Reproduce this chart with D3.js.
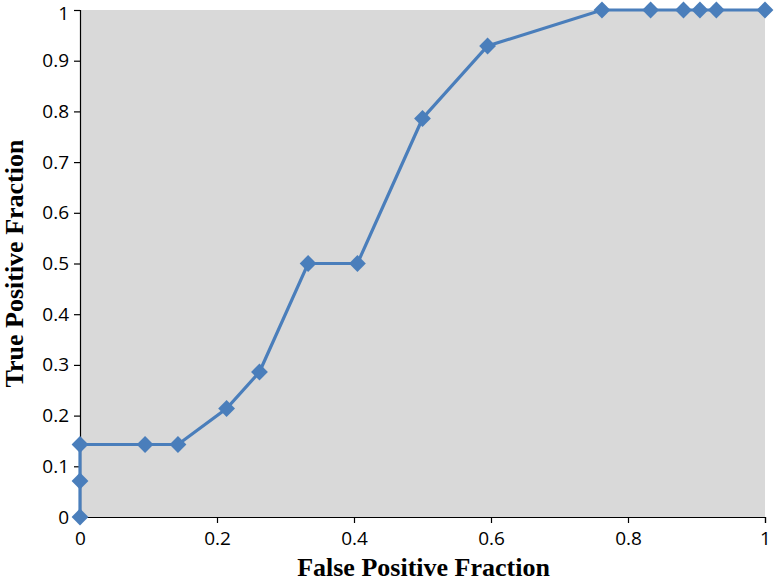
<!DOCTYPE html>
<html>
<head>
<meta charset="utf-8">
<script src="https://cdn.jsdelivr.net/npm/d3@7"></script>
<style>
  body { margin: 0; background: #fff; }
</style>
</head>
<body>
<svg id="chart"></svg>
<script>
// ROC curve points
const fpf = [0, 0, 0, 0.095, 0.143, 0.214, 0.262, 0.333, 0.405, 0.5, 0.595, 0.762, 0.833, 0.881, 0.905, 0.929, 1];
const tpf = [0, 0.071, 0.143, 0.143, 0.143, 0.214, 0.286, 0.5, 0.5, 0.786, 0.929, 1, 1, 1, 1, 1, 1];
const xTicks = [0, 0.2, 0.4, 0.6, 0.8, 1];
const yTicks = [0, 0.1, 0.2, 0.3, 0.4, 0.5, 0.6, 0.7, 0.8, 0.9, 1];

const data = fpf.map((x, i) => ({ x: x, y: tpf[i] }));

const width = 774, height = 583;
const margin = { top: 10, right: 9, bottom: 66, left: 80 };
const plotW = width - margin.left - margin.right;
const plotH = height - margin.top - margin.bottom;

const svg = d3.select("#chart")
    .attr("width", width)
    .attr("height", height);

const g = svg.append("g")
    .attr("transform", "translate(" + margin.left + "," + margin.top + ")");

const xScale = d3.scaleLinear().domain([0, 1]).range([0, plotW]);
const yScale = d3.scaleLinear().domain([0, 1]).range([plotH, 0]);

// grey plot area
g.append("rect")
    .attr("width", plotW)
    .attr("height", plotH)
    .attr("fill", "#d9d9d9");

const tickFont = "'Open Sans', 'DejaVu Sans', sans-serif";

// x axis
const xAxis = g.append("g")
    .attr("transform", "translate(0," + plotH + ")")
    .call(d3.axisBottom(xScale).tickValues(xTicks).tickFormat(d3.format("")).tickSizeOuter(0).tickSize(6).tickPadding(9));

// y axis
const yAxis = g.append("g")
    .call(d3.axisLeft(yScale).tickValues(yTicks).tickFormat(d3.format("")).tickSizeOuter(0).tickSize(6).tickPadding(5));

[xAxis, yAxis].forEach(a => {
    a.select(".domain").attr("stroke", "#000").attr("stroke-width", 1.2);
    a.selectAll(".tick line").attr("stroke", "#000").attr("stroke-width", 1.2);
    a.selectAll(".tick text")
        .attr("fill", "#000")
        .style("font-family", tickFont)
        .style("font-size", "19px");
});
// keep the top "1" inside the picture
yAxis.selectAll(".tick text").filter(d => d === 1).attr("dy", "0.5em");

// the line
const line = d3.line()
    .x(d => xScale(d.x))
    .y(d => yScale(d.y));

g.append("path")
    .datum(data)
    .attr("d", line)
    .attr("fill", "none")
    .attr("stroke", "#4a7ebb")
    .attr("stroke-width", 3.2);

// diamond markers
g.selectAll(".marker")
    .data(data)
    .enter().append("path")
    .attr("class", "marker")
    .attr("d", d3.symbol().type(d3.symbolDiamond2).size(180))
    .attr("transform", d => "translate(" + xScale(d.x) + "," + yScale(d.y) + ")")
    .attr("fill", "#4a7ebb");

// axis titles
svg.append("text")
    .attr("x", margin.left + plotW / 2 + 1)
    .attr("y", 576)
    .attr("text-anchor", "middle")
    .style("font-family", "'Liberation Serif', 'Times New Roman', serif")
    .style("font-weight", "bold")
    .style("font-size", "26px")
    .text("False Positive Fraction");

svg.append("text")
    .attr("transform", "translate(23," + (margin.top + plotH / 2) + ") rotate(-90)")
    .attr("text-anchor", "middle")
    .style("font-family", "'Liberation Serif', 'Times New Roman', serif")
    .style("font-weight", "bold")
    .style("font-size", "26px")
    .text("True Positive Fraction");
</script>
</body>
</html>
